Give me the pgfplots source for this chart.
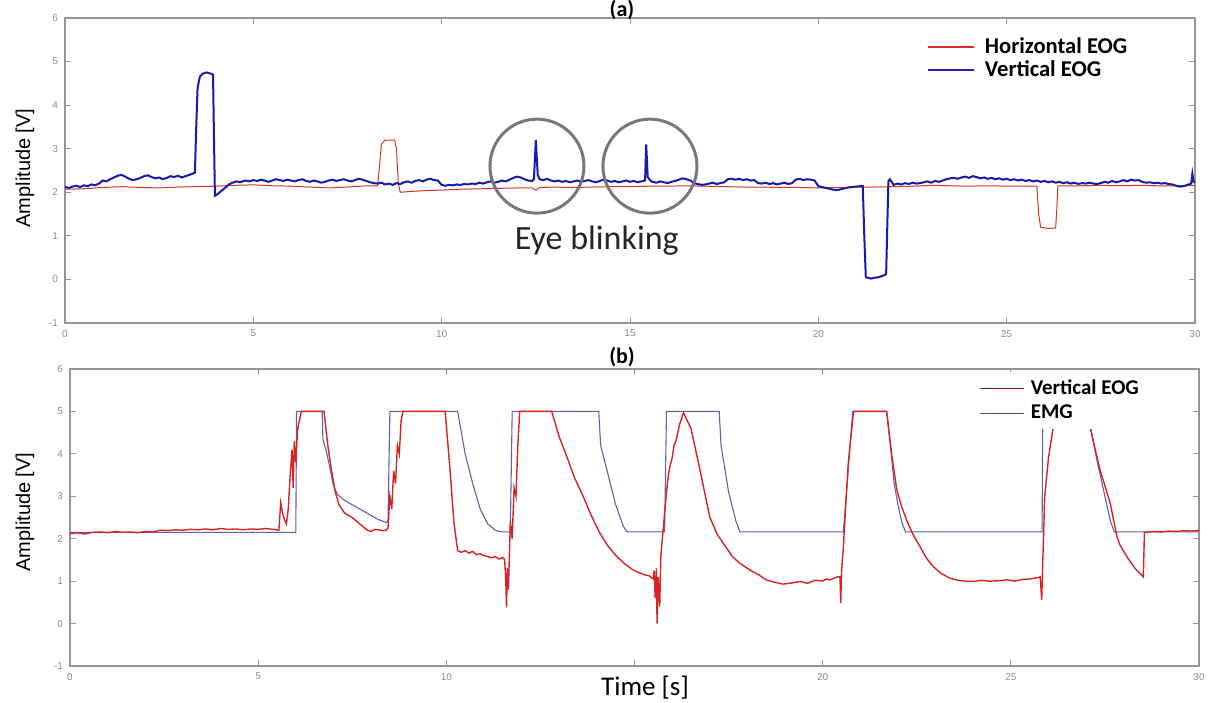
\documentclass[border=0pt]{standalone}
\usepackage{pgfplots}
\pgfplotsset{compat=1.18}
\usepackage{fontspec}
\setmainfont{Carlito}
\newfontfamily\arialf{Liberation Sans}

\definecolor{topred}{RGB}{205,55,40}
\definecolor{topblue}{RGB}{25,25,170}
\definecolor{botred}{RGB}{215,35,35}
\definecolor{botblue}{RGB}{95,95,175}
\definecolor{axgray}{RGB}{150,150,150}
\definecolor{tickgray}{RGB}{140,140,140}
\definecolor{circgray}{RGB}{120,120,120}
\definecolor{legred}{RGB}{225,40,40}
\definecolor{legblue}{RGB}{35,35,195}
\definecolor{legdred}{RGB}{120,25,25}
\definecolor{legpblue}{RGB}{75,75,165}

\pgfplotsset{
 mystyle/.style={
  scale only axis, xmin=0,xmax=30,ymin=-1,ymax=6,
  xtick={0,5,...,30}, ytick={-1,0,...,6},
  tick align=inside, major tick length=3pt,
  axis line style={draw=axgray, line width=0.7pt},
  every tick/.style={draw=axgray, line width=0.5pt},
  tick label style={font=\arialf\fontsize{5}{6}\selectfont, text=tickgray},
  /pgf/number format/assume math mode=true,
  legend cell align=left,
 }
}

\begin{document}
\begin{tikzpicture}
\useasboundingbox (0,0) rectangle (605pt,351pt);

% ---------------- (a) ----------------
\begin{axis}[mystyle, at={(32.5pt,189.5pt)}, anchor=south west,
  width=565pt, height=152.5pt,
  legend image code/.code={\draw[#1] (0pt,0pt) -- (23pt,0pt);},
  legend style={draw=none, fill=white, font=\bfseries\fontsize{11.3}{13}\selectfont,
    at={(axis cs:22.83,5.7)}, anchor=north west, inner sep=1pt, row sep=-2pt, column sep=3pt}]
\addlegendimage{legred, line width=0.6pt}
\addlegendentry{Horizontal EOG}
\addlegendimage{legblue, line width=0.8pt}
\addlegendentry{Vertical EOG}

\addplot[topred, line width=0.5pt, forget plot] coordinates {
(0,2.07)(0.5,2.08)(1,2.11)(1.5,2.13)(2,2.11)(2.5,2.10)(3,2.12)(3.5,2.13)(4,2.14)(4.5,2.16)
(5,2.17)(5.5,2.15)(6,2.14)(6.5,2.12)(7,2.10)(7.5,2.12)(8,2.15)(8.3,2.15)(8.35,2.6)(8.4,3.1)
(8.5,3.2)(8.75,3.2)(8.8,3.0)(8.85,2.2)(8.9,2.0)(9.2,2.02)(9.6,2.04)(10,2.05)(10.5,2.07)(11,2.08)
(11.5,2.09)(12,2.10)(12.4,2.10)(12.5,2.05)(12.6,2.11)(13,2.12)(13.5,2.11)(14,2.12)(14.5,2.13)
(15,2.13)(15.5,2.14)(16,2.14)(16.5,2.15)(17,2.14)(17.5,2.13)(18,2.12)(18.5,2.12)(19,2.11)
(19.5,2.11)(20,2.10)(20.5,2.11)(21,2.12)(21.5,2.12)(22,2.13)(22.5,2.14)(23,2.16)(23.5,2.15)
(24,2.14)(24.5,2.15)(25,2.14)(25.5,2.14)(25.8,2.14)(25.85,1.5)(25.9,1.2)(26.1,1.17)(26.3,1.18)
(26.33,1.6)(26.36,2.15)(27,2.15)(27.5,2.16)(28,2.15)(28.5,2.16)(29,2.15)(29.5,2.15)(30,2.16)
};

\addplot[topblue, line width=1pt, forget plot] coordinates {
(0.00,2.12)(0.10,2.10)(0.20,2.13)(0.30,2.15)(0.40,2.12)(0.50,2.16)(0.60,2.14)(0.70,2.18)(0.80,2.16)(0.90,2.20)
(1.00,2.27)(1.10,2.25)(1.20,2.30)(1.30,2.34)(1.40,2.38)(1.50,2.40)(1.60,2.36)(1.70,2.31)(1.80,2.28)(1.90,2.30)
(2.00,2.33)(2.10,2.37)(2.20,2.39)(2.30,2.35)(2.40,2.32)(2.50,2.34)(2.60,2.30)(2.70,2.33)(2.80,2.37)(2.90,2.35)
(3.00,2.38)(3.10,2.34)(3.20,2.37)(3.30,2.40)(3.40,2.43)(3.45,2.45)(3.48,3.40)(3.52,4.40)(3.58,4.65)(3.65,4.72)
(3.75,4.75)(3.85,4.73)(3.93,4.70)(3.96,3.00)(3.98,1.92)(4.05,1.96)(4.15,2.03)(4.25,2.10)(4.35,2.18)(4.45,2.22)
(4.55,2.25)(4.65,2.23)(4.75,2.26)
(4.8,2.27)(4.9,2.25)(5.0,2.28)(5.1,2.26)(5.2,2.29)(5.3,2.27)(5.4,2.24)(5.5,2.27)(5.6,2.30)(5.7,2.28)
(5.8,2.26)(5.9,2.29)(6.0,2.27)(6.1,2.25)(6.2,2.28)(6.3,2.30)(6.4,2.26)(6.5,2.24)(6.6,2.27)(6.7,2.25)
(6.8,2.22)(6.9,2.24)(7.0,2.27)(7.1,2.29)(7.2,2.26)(7.3,2.28)(7.4,2.30)(7.5,2.27)(7.6,2.25)(7.7,2.28)
(7.8,2.31)(7.9,2.29)(8.0,2.26)(8.1,2.23)(8.2,2.21)(8.3,2.20)
(8.4,2.22)(8.5,2.18)(8.6,2.20)(8.7,2.17)(8.8,2.21)(8.9,2.19)(9.0,2.23)(9.1,2.25)(9.2,2.22)(9.3,2.26)
(9.4,2.28)(9.5,2.25)(9.6,2.29)(9.7,2.31)(9.8,2.28)(9.9,2.27)(10.0,2.17)(10.1,2.15)(10.2,2.17)(10.3,2.16)
(10.4,2.18)(10.5,2.17)(10.6,2.19)(10.7,2.18)(10.8,2.20)(10.9,2.19)(11.0,2.22)(11.1,2.20)(11.2,2.23)(11.3,2.25)
(11.4,2.22)(11.5,2.24)(11.6,2.27)(11.7,2.25)(11.8,2.29)(11.9,2.33)(12.0,2.36)(12.1,2.34)(12.2,2.30)(12.3,2.27)
(12.4,2.26)(12.45,2.30)(12.5,3.20)(12.55,2.40)(12.6,2.30)(12.7,2.28)(12.8,2.31)(12.9,2.27)(13.0,2.25)(13.1,2.27)
(13.2,2.24)(13.3,2.26)(13.4,2.23)(13.5,2.25)(13.6,2.27)(13.7,2.24)(13.8,2.26)(13.9,2.28)(14.0,2.25)(14.1,2.23)
(14.2,2.26)(14.3,2.29)(14.4,2.27)(14.5,2.24)(14.6,2.26)(14.7,2.23)(14.8,2.25)(14.9,2.27)(15.0,2.24)(15.1,2.26)
(15.2,2.23)(15.3,2.25)(15.4,2.27)(15.43,3.10)(15.47,2.35)(15.55,2.26)(15.6,2.24)(15.7,2.22)(15.8,2.25)(15.9,2.23)
(16.0,2.21)(16.1,2.24)(16.2,2.26)(16.3,2.29)(16.4,2.32)(16.5,2.30)(16.6,2.27)(16.7,2.21)(16.8,2.19)(16.9,2.17)
(17.0,2.18)(17.1,2.20)(17.2,2.22)(17.3,2.19)(17.4,2.21)(17.5,2.23)(17.6,2.30)(17.7,2.31)(17.8,2.29)(17.9,2.31)
(18.0,2.28)(18.1,2.30)(18.2,2.27)(18.3,2.28)(18.4,2.21)(18.5,2.20)(18.6,2.22)(18.7,2.19)(18.8,2.21)(18.9,2.18)
(19.0,2.20)(19.1,2.22)(19.2,2.19)(19.3,2.21)(19.4,2.29)(19.5,2.31)(19.6,2.28)(19.7,2.30)(19.8,2.29)(19.9,2.27)
(20.0,2.14)(20.1,2.12)(20.2,2.10)(20.3,2.08)(20.4,2.06)(20.5,2.05)(20.6,2.07)(20.7,2.09)(20.8,2.11)(20.9,2.12)
(21.0,2.13)(21.1,2.14)(21.18,2.14)(21.22,1.00)(21.26,0.05)(21.4,0.02)(21.5,0.04)(21.6,0.05)(21.7,0.08)(21.8,0.12)
(21.83,1.20)(21.86,2.25)(21.9,2.30)(22.0,2.17)(22.1,2.20)(22.2,2.18)(22.3,2.21)(22.4,2.19)(22.5,2.22)(22.6,2.20)
(22.7,2.21)(22.8,2.23)(22.9,2.25)(23.0,2.22)(23.1,2.26)(23.2,2.24)(23.3,2.27)(23.4,2.30)(23.5,2.32)(23.6,2.33)
(23.7,2.31)(23.8,2.34)(23.9,2.36)(24.0,2.33)(24.1,2.37)(24.2,2.35)(24.3,2.32)(24.4,2.34)(24.5,2.31)(24.6,2.33)
(24.7,2.30)(24.8,2.32)(24.9,2.29)(25.0,2.31)(25.1,2.28)(25.2,2.30)(25.3,2.27)(25.4,2.29)(25.5,2.26)(25.6,2.28)
(25.7,2.25)(25.8,2.27)(25.9,2.24)(26.0,2.26)(26.1,2.23)(26.2,2.25)(26.3,2.22)(26.4,2.24)(26.5,2.21)(26.6,2.23)
(26.7,2.20)(26.8,2.22)(26.9,2.19)(27.0,2.21)(27.1,2.20)(27.2,2.22)(27.3,2.20)(27.4,2.19)(27.5,2.21)(27.6,2.24)
(27.7,2.22)(27.8,2.26)(27.9,2.23)(28.0,2.25)(28.1,2.28)(28.2,2.25)(28.3,2.29)(28.4,2.27)(28.5,2.28)(28.6,2.24)
(28.7,2.22)(28.8,2.23)(28.9,2.21)(29.0,2.22)(29.1,2.20)(29.2,2.21)(29.3,2.19)(29.4,2.18)(29.5,2.15)(29.6,2.13)
(29.7,2.14)(29.8,2.17)(29.9,2.20)(29.93,2.42)(29.96,2.25)(30.0,2.22)
};

\draw[circgray, line width=1.5pt] (axis cs:12.53,2.6) circle[radius=23.5pt];
\draw[circgray, line width=1.5pt] (axis cs:15.53,2.6) circle[radius=23.5pt];
\node[font=\fontsize{17}{19}\selectfont, text=black!85] at (axis cs:14.12,0.88) {Eye blinking};
\end{axis}

% ---------------- (b) ----------------
\begin{axis}[mystyle, at={(35pt,18pt)}, anchor=south west,
  width=564.5pt, height=148.5pt,
  xticklabels={0,5,10,{},20,25,30},
  legend image code/.code={\draw[#1] (0pt,0pt) -- (22pt,0pt);},
  legend style={draw=none, fill=white, font=\bfseries\fontsize{10.5}{12}\selectfont,
    at={(axis cs:24.08,5.93)}, anchor=north west, inner sep=1.5pt, row sep=0pt, column sep=1pt}]
\addlegendimage{legdred, line width=0.6pt}
\addlegendentry{Vertical EOG}
\addlegendimage{legpblue, line width=0.6pt}
\addlegendentry{EMG}

\addplot[botblue, line width=0.55pt, forget plot] coordinates {
(0,2.15)(6.0,2.15)(6.02,5.0)(6.7,5.0)(6.72,4.35)(6.8,4.1)(6.9,3.7)(7.0,3.25)(7.1,3.05)(7.3,2.9)
(7.6,2.75)(7.9,2.6)(8.2,2.45)(8.4,2.38)(8.45,2.4)(8.5,5.0)(10.3,5.0)(10.4,4.5)(10.5,4.0)(10.7,3.3)
(10.9,2.7)(11.1,2.35)(11.3,2.2)(11.45,2.16)(11.7,2.16)(11.75,5.0)(14.05,5.0)(14.1,4.2)(14.3,3.5)(14.5,2.8)
(14.7,2.3)(14.8,2.16)(15.8,2.16)(15.85,5.0)(17.25,5.0)(17.3,4.2)(17.5,3.1)(17.7,2.4)(17.8,2.16)(20.55,2.16)
(20.8,5.0)(21.7,5.0)(21.8,4.2)(21.9,3.3)(22.0,2.8)(22.1,2.4)(22.2,2.16)(25.83,2.16)(25.85,5.0)(27.05,5.0)
(27.1,4.7)(27.3,3.8)(27.5,3.0)(27.65,2.4)(27.75,2.16)(30,2.16)
};

\addplot[botred, line width=0.7pt, forget plot] coordinates {
(0,2.12)(0.2,2.14)(0.4,2.11)(0.6,2.15)(0.8,2.16)(1.0,2.14)(1.2,2.17)(1.4,2.15)(1.6,2.16)(1.8,2.14)
(2.0,2.17)(2.2,2.16)(2.4,2.20)(2.6,2.19)(2.8,2.21)(3.0,2.20)(3.2,2.22)(3.4,2.21)(3.6,2.23)(3.8,2.21)
(4.0,2.24)(4.2,2.22)(4.4,2.23)(4.6,2.21)(4.8,2.23)(5.0,2.22)(5.2,2.24)(5.4,2.22)(5.55,2.20)(5.6,2.85)
(5.65,2.6)(5.7,2.45)(5.75,2.35)(5.8,2.7)(5.85,3.5)(5.9,4.1)(5.93,3.2)(5.96,4.3)(6.0,3.8)(6.05,4.6)
(6.15,5.0)(6.75,5.0)(6.85,4.2)(6.95,3.6)(7.05,3.1)(7.15,2.8)(7.3,2.6)(7.5,2.5)(7.7,2.35)(7.9,2.2)
(8.0,2.17)(8.1,2.22)(8.2,2.21)(8.3,2.19)(8.4,2.20)(8.45,2.25)(8.5,3.0)(8.55,2.7)(8.6,3.6)(8.65,3.3)
(8.7,4.2)(8.75,4.0)(8.8,4.8)(8.85,5.0)(9.97,5.0)(10.1,3.6)(10.2,2.4)(10.3,1.72)(10.4,1.68)(10.5,1.72)
(10.6,1.66)(10.7,1.70)(10.8,1.62)(10.9,1.65)(11.0,1.60)(11.1,1.58)(11.2,1.55)(11.3,1.58)(11.4,1.52)(11.5,1.56)
(11.55,1.5)(11.58,1.0)(11.6,0.38)(11.62,1.3)(11.65,0.8)(11.7,2.4)(11.75,2.0)(11.8,3.2)(11.85,3.0)(11.9,4.2)
(11.95,5.0)(12.8,5.0)(13.0,4.4)(13.2,3.94)(13.4,3.45)(13.64,2.99)(13.85,2.55)(14.08,2.13)(14.3,1.82)(14.53,1.58)
(14.75,1.40)(14.97,1.26)(15.2,1.17)(15.4,1.12)(15.5,1.05)(15.52,1.25)(15.55,0.6)(15.58,1.3)(15.6,0.0)(15.63,1.1)
(15.67,0.4)(15.7,1.6)(15.76,2.2)(15.8,2.6)(15.85,3.1)(15.9,3.5)(15.94,3.7)(16.0,3.9)(16.05,4.2)(16.1,4.3)
(16.15,4.5)(16.2,4.7)(16.3,4.97)(16.5,4.6)(16.74,3.62)(17.0,2.51)(17.2,2.1)(17.36,1.89)(17.6,1.58)(17.8,1.42)
(18.07,1.26)(18.3,1.15)(18.5,1.03)(18.7,0.98)(18.95,0.93)(19.2,0.96)(19.4,0.99)(19.6,0.95)(19.8,1.02)(20.0,1.00)
(20.1,1.05)(20.2,1.03)(20.3,1.07)(20.4,1.10)(20.46,1.1)(20.48,0.48)(20.5,1.2)(20.55,1.81)(20.6,2.6)(20.68,3.78)
(20.75,4.4)(20.82,5.0)(21.7,5.0)(21.84,3.94)(21.97,3.15)(22.1,2.75)(22.23,2.44)(22.4,2.1)(22.59,1.81)(22.75,1.55)
(22.94,1.34)(23.15,1.18)(23.38,1.07)(23.6,1.02)(23.8,1.0)(24.0,0.99)(24.2,1.02)(24.4,1.00)(24.7,1.01)(24.9,1.03)
(25.1,1.00)(25.3,1.04)(25.5,1.05)(25.7,1.08)(25.78,1.1)(25.82,0.56)(25.85,1.5)(25.9,2.99)(26.0,3.9)(26.13,4.65)
(26.3,5.0)(26.9,5.0)(27.1,4.65)(27.37,3.62)(27.64,2.84)(27.82,2.05)(27.9,1.85)(28.08,1.58)(28.3,1.3)(28.52,1.1)
(28.55,2.15)(28.8,2.17)(29.0,2.16)(29.2,2.18)(29.4,2.17)(29.6,2.19)(29.8,2.18)(30.0,2.20)
};
\end{axis}

% titles and labels
\node[font=\bfseries\fontsize{11}{13}\selectfont] at (311pt,346pt) {(a)};
\node[font=\bfseries\fontsize{11}{13}\selectfont] at (311pt,172.5pt) {(b)};
\node[font=\arialf\fontsize{10}{12}\selectfont, rotate=90] at (12.5pt,267pt) {Amplitude [V]};
\node[font=\arialf\fontsize{10}{12}\selectfont, rotate=90] at (12.5pt,95pt) {Amplitude [V]};
\node[font=\fontsize{13.5}{15}\selectfont, inner sep=0pt] at (322.5pt,7pt) {Time [s]};
\end{tikzpicture}
\end{document}
